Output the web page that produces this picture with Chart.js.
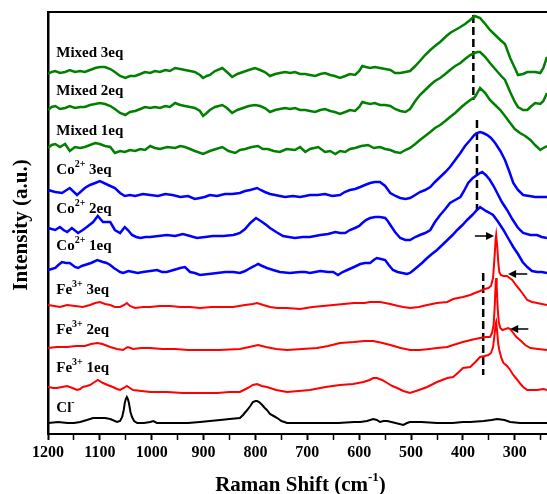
<!DOCTYPE html>
<html>
<head>
<meta charset="utf-8">
<script src="https://cdn.jsdelivr.net/npm/chart.js@4.4.1/dist/chart.umd.min.js"></script>
<style>
  html, body { margin: 0; padding: 0; background: #fff; }
</style>
</head>
<body>
<canvas id="raman" width="547" height="494"></canvas>
<script>
// Raman shift (cm-1) / intensity (a.u., stacked offsets) pairs
const mixed3 = [[1200,360],[1193,362],[1186,363],[1177,361],[1167,362],[1158,364],[1148,362],[1138,363],[1129,362],[1119,364],[1109,366],[1100,367],[1090,367],[1080,365],[1071,362],[1061,358],[1051,356],[1042,358],[1032,358],[1022,360],[1013,362],[1003,361],[994,363],[984,362],[974,364],[965,363],[955,366],[945,365],[936,364],[926,363],[917,362],[907,359],[901,356],[894,358],[888,359],[878,363],[864,366],[855,362],[845,357],[835,360],[824,362],[813,364],[801,366],[791,364],[782,362],[772,358],[762,360],[753,361],[743,362],[733,361],[724,362],[714,360],[704,360],[695,359],[685,358],[675,360],[666,361],[656,359],[647,358],[637,356],[627,358],[618,360],[608,359],[600,363],[594,368],[587,367],[579,366],[570,367],[560,366],[550,365],[540,364],[531,361],[521,361],[511,362],[502,363],[492,368],[483,373],[473,379],[463,384],[454,388],[444,392],[434,397],[425,401],[415,404],[405,407],[396,410],[386,414],[378,418],[372,417],[367,416],[357,410],[348,404],[338,399],[328,394],[319,390],[309,376],[300,366],[294,359],[284,360],[276,362],[270,362],[261,362],[251,361],[245,366],[238,377]];
const mixed2 = [[1200,324],[1193,327],[1186,328],[1177,325],[1167,326],[1158,328],[1148,326],[1138,327],[1129,327],[1119,329],[1109,330],[1100,331],[1090,330],[1080,328],[1071,325],[1061,321],[1051,319],[1042,322],[1032,323],[1022,325],[1013,327],[1003,326],[994,327],[984,326],[974,328],[965,327],[955,331],[945,329],[936,328],[926,327],[917,326],[907,323],[901,318],[894,321],[888,324],[878,327],[864,329],[855,326],[845,321],[835,324],[824,326],[813,328],[801,329],[791,328],[782,326],[772,322],[762,324],[753,325],[743,326],[733,325],[724,326],[714,324],[704,324],[695,323],[685,322],[675,324],[666,325],[656,323],[647,322],[637,320],[627,322],[618,324],[608,323],[600,327],[594,332],[587,331],[579,330],[570,331],[560,329],[550,329],[540,328],[531,325],[521,323],[511,322],[502,325],[492,333],[483,339],[473,344],[463,349],[454,353],[444,356],[434,360],[425,364],[415,368],[405,371],[396,375],[386,379],[378,381],[372,382],[367,382],[357,377],[348,371],[338,365],[328,359],[319,354],[309,342],[300,332],[294,327],[284,324],[276,324],[270,327],[261,331],[251,330],[245,333],[238,341]];
const mixed1 = [[1200,286],[1193,289],[1186,290],[1177,287],[1167,290],[1158,283],[1148,287],[1138,286],[1129,287],[1119,289],[1109,291],[1100,290],[1090,288],[1080,287],[1071,281],[1061,283],[1052,282],[1042,284],[1032,283],[1022,285],[1013,284],[1003,288],[994,286],[984,285],[970,287],[955,286],[945,288],[936,287],[926,285],[917,283],[901,280],[888,283],[876,285],[864,287],[852,283],[839,281],[830,284],[820,285],[807,287],[795,288],[786,285],[776,285],[765,283],[753,282],[740,285],[724,284],[714,287],[704,282],[695,285],[679,287],[666,282],[656,283],[646,280],[637,283],[627,282],[618,285],[608,286],[596,288],[583,289],[572,286],[560,287],[550,285],[540,284],[531,282],[521,281],[511,284],[502,286],[492,290],[483,294],[473,298],[463,302],[454,306],[444,309],[434,313],[425,317],[415,321],[405,326],[396,330],[386,334],[377,337],[367,346],[357,341],[348,334],[338,329],[328,324],[319,318],[309,311],[300,305],[290,301],[280,298],[270,294],[261,289],[251,284],[245,286],[238,288]];
const co3 = [[1200,244],[1193,243],[1186,242],[1173,241],[1158,246],[1144,239],[1129,246],[1119,249],[1109,251],[1100,253],[1084,249],[1071,246],[1061,241],[1052,238],[1042,239],[1032,238],[1017,240],[1003,239],[988,238],[974,240],[960,239],[945,237],[930,238],[917,235],[907,236],[898,237],[888,239],[874,238],[859,240],[845,240],[830,241],[820,243],[810,244],[797,246],[790,244],[782,242],[772,240],[762,239],[753,238],[743,237],[728,238],[714,237],[704,238],[695,239],[680,239],[666,240],[652,238],[637,239],[628,242],[618,244],[608,245],[598,247],[589,249],[579,251],[570,252],[560,252],[550,248],[540,241],[530,238],[521,236],[511,235],[502,236],[492,239],[483,242],[473,244],[463,247],[454,252],[444,257],[434,262],[425,267],[415,274],[405,281],[396,288],[386,294],[378,299],[373,301],[367,302],[361,301],[353,299],[346,296],[338,291],[328,283],[319,274],[311,263],[303,251],[294,244],[284,239],[272,238],[261,237],[250,237],[238,237]];
const co2 = [[1200,206],[1193,205],[1186,204],[1177,207],[1170,204],[1163,202],[1154,206],[1142,201],[1133,204],[1125,207],[1113,212],[1104,218],[1094,212],[1080,212],[1071,204],[1061,201],[1052,207],[1046,204],[1038,199],[1030,197],[1022,196],[1012,197],[1003,197],[987,198],[971,199],[955,198],[940,200],[926,198],[913,196],[897,197],[882,198],[862,198],[843,199],[836,200],[830,201],[820,205],[810,211],[799,216],[793,214],[787,212],[779,209],[772,206],[760,202],[747,198],[736,197],[724,196],[709,197],[695,197],[685,198],[675,199],[660,200],[646,202],[637,201],[627,201],[618,204],[608,206],[600,208],[594,211],[587,214],[579,216],[569,217],[560,217],[550,216],[545,213],[540,209],[531,202],[521,196],[511,194],[502,194],[492,197],[483,199],[473,201],[463,204],[454,212],[444,219],[434,225],[425,231],[415,234],[405,237],[398,243],[390,251],[381,256],[373,259],[367,261],[363,262],[356,259],[348,254],[341,248],[334,241],[325,232],[315,224],[305,215],[295,207],[290,204],[284,201],[270,199],[257,199],[248,197],[238,196]];
const co1 = [[1200,164],[1193,165],[1186,166],[1180,169],[1173,172],[1165,171],[1158,171],[1148,167],[1142,166],[1135,168],[1129,169],[1117,171],[1105,174],[1094,172],[1087,171],[1080,169],[1073,166],[1067,164],[1061,162],[1055,161],[1045,163],[1036,162],[1027,161],[1017,162],[1003,163],[990,164],[980,162],[971,162],[958,164],[945,166],[936,167],[926,162],[917,161],[907,159],[890,160],[874,161],[858,162],[843,162],[830,161],[820,163],[810,166],[802,168],[795,170],[787,168],[778,166],[766,164],[753,162],[734,161],[714,162],[704,162],[695,161],[685,162],[675,163],[660,162],[650,162],[641,159],[632,162],[623,164],[610,167],[598,170],[589,171],[579,171],[572,174],[566,176],[558,175],[550,174],[543,169],[535,164],[526,162],[517,161],[508,160],[502,161],[495,164],[488,167],[479,171],[469,176],[460,180],[450,184],[440,189],[430,194],[420,199],[411,204],[401,209],[392,214],[382,219],[373,224],[367,227],[356,223],[348,221],[342,219],[332,212],[322,204],[312,195],[303,187],[294,180],[285,172],[276,167],[267,163],[257,162],[248,162],[238,161]];
const fe3 = [[1200,129],[1188,128],[1177,127],[1163,129],[1148,128],[1133,127],[1119,129],[1109,131],[1100,132],[1090,130],[1080,129],[1071,127],[1061,127],[1053,129],[1048,131],[1042,128],[1032,126],[1017,127],[1003,127],[985,128],[965,128],[945,127],[926,127],[907,126],[885,127],[864,127],[843,127],[820,129],[805,130],[797,131],[785,129],[772,127],[758,126],[740,126],[714,125],[690,127],[670,128],[650,129],[630,130],[610,131],[590,131],[579,132],[560,132],[540,130],[525,128],[515,127],[502,126],[485,127],[469,129],[450,131],[430,132],[419,135],[400,137],[386,139],[377,141],[367,143],[358,145],[351,146],[346,148],[342,156],[339,178],[337,195],[336,199],[334,188],[332,172],[330,162],[327,159],[322,158],[315,158],[310,156],[305,154],[298,149],[290,144],[283,139],[276,134],[267,132],[257,131],[248,130],[238,129]];
const fe2 = [[1200,86],[1183,87],[1163,87],[1146,88],[1129,88],[1117,90],[1105,91],[1095,90],[1080,87],[1067,85],[1055,84],[1050,86],[1046,87],[1041,86],[1036,85],[1020,86],[1003,86],[980,85],[955,85],[930,84],[907,84],[870,84],[830,85],[812,87],[795,89],[780,87],[760,85],[739,84],[710,85],[681,86],[660,88],[637,91],[610,92],[590,93],[573,93],[555,91],[540,89],[520,86],[502,84],[483,84],[465,85],[450,86],[430,87],[419,89],[400,92],[385,94],[367,96],[355,97],[348,97],[344,101],[341,109],[339,125],[337,150],[336,156],[335,148],[333,125],[331,112],[328,106],[324,104],[318,105],[313,106],[309,105],[303,101],[297,97],[290,94],[280,89],[270,86],[255,85],[238,84]];
const fe1 = [[1200,47],[1190,46],[1183,46],[1173,47],[1163,48],[1153,46],[1144,44],[1138,45],[1133,47],[1125,48],[1119,49],[1110,52],[1104,54],[1094,51],[1085,49],[1075,47],[1067,45],[1061,44],[1054,46],[1048,48],[1042,46],[1036,44],[1020,43],[1003,42],[970,42],[940,41],[905,41],[874,41],[850,42],[830,42],[815,46],[805,49],[797,50],[788,48],[778,47],[760,44],[739,42],[717,43],[695,44],[665,47],[637,49],[612,50],[592,52],[580,54],[573,56],[566,56],[556,54],[546,51],[536,48],[527,46],[515,43],[502,41],[485,44],[469,47],[450,52],[430,56],[419,57],[410,61],[400,66],[386,67],[376,72],[367,77],[358,78],[351,79],[346,81],[342,87],[339,100],[337,110],[336,112],[334,102],[332,90],[330,84],[326,76],[322,71],[315,68],[309,64],[303,59],[295,54],[289,50],[284,47],[276,44],[265,44],[257,44],[245,45],[238,44]];
const chloride = [[1200,11],[1180,12],[1163,11],[1150,11],[1138,12],[1125,14],[1113,16],[1100,16],[1090,16],[1080,15],[1067,12],[1061,13],[1057,17],[1054,24],[1052,31],[1050,35],[1048,37],[1046,35],[1044,31],[1041,22],[1038,17],[1034,13],[1028,11],[1015,11],[1003,12],[997,13],[990,11],[960,11],[930,11],[907,12],[888,13],[868,14],[850,15],[830,16],[824,19],[816,24],[810,28],[805,32],[800,33],[797,33],[793,32],[787,29],[782,26],[778,24],[772,20],[765,18],[758,16],[750,13],[739,11],[710,11],[675,11],[640,11],[610,12],[598,12],[585,13],[573,15],[566,14],[560,12],[553,13],[546,13],[530,11],[515,9],[508,11],[502,12],[480,12],[450,11],[420,11],[400,12],[386,12],[360,13],[345,14],[334,15],[320,14],[309,12],[290,11],[270,11],[238,11]];

// sample names: base text, superscript, remainder; and label anchors (x in cm-1, y in a.u.)
const labelParts = [['Mixed 3eq','',''],['Mixed 2eq','',''],['Mixed 1eq','',''],['Co','2+',' 3eq'],['Co','2+',' 2eq'],['Co','2+',' 1eq'],['Fe','3+',' 3eq'],['Fe','3+',' 2eq'],['Fe','3+',' 1eq'],['Cl','-','']];
const labelShift = 1184;
const labelLevels = [381, 343, 303, 264, 225, 188, 144, 104, 66, 26];

// dashed guide lines: [shift, intensity from, intensity to]
const guides = [[380, 419, 334], [373, 314, 224], [361, 161, 59]];
// arrows: [tail shift, head shift, intensity]
const arrows = [[377, 340, 198], [276, 313, 160], [274, 309, 105]];

const xTicksMajor = [300, 400, 500, 600, 700, 800, 900, 1000, 1100, 1200];

const SERIF = "'Liberation Serif', 'Times New Roman', serif";
const GREEN = '#008000';
const BLUE = '#0000ff';
const RED = '#ff0000';

function toPoints(arr) {
    return arr.map(p => ({ x: p[0], y: p[1] }));
}

function trace(arr, color, width) {
    return {
        data: toPoints(arr),
        borderColor: color,
        borderWidth: width,
        pointRadius: 0,
        showLine: true,
        tension: 0,
        fill: false
    };
}

const datasets = [
    trace(mixed3, GREEN, 2.5),
    trace(mixed2, GREEN, 2.5),
    trace(mixed1, GREEN, 2.5),
    trace(co3, BLUE, 2.5),
    trace(co2, BLUE, 2.5),
    trace(co1, BLUE, 2.5),
    trace(fe3, RED, 2),
    trace(fe2, RED, 2),
    trace(fe1, RED, 2),
    trace(chloride, '#000000', 2)
];

guides.forEach(g => {
    datasets.push({
        data: [{ x: g[0], y: g[1] }, { x: g[0], y: g[2] }],
        borderColor: '#000',
        borderWidth: 2.5,
        borderDash: [8, 4],
        pointRadius: 0,
        showLine: true
    });
});

// draws frame top, arrows, sample names and axis titles
const annotate = {
    id: 'annotate',
    afterDatasetsDraw(chart) {
        const { ctx, chartArea } = chart;
        const xs = chart.scales.x;
        const ys = chart.scales.y;
        ctx.save();

        ctx.strokeStyle = '#000';
        ctx.lineWidth = 2;
        ctx.beginPath();
        ctx.moveTo(chartArea.left, chartArea.top);
        ctx.lineTo(chartArea.right, chartArea.top);
        ctx.stroke();

        ctx.fillStyle = '#000';
        ctx.lineWidth = 1.5;
        arrows.forEach(a => {
            const x0 = xs.getPixelForValue(a[0]);
            const x1 = xs.getPixelForValue(a[1]);
            const yy = ys.getPixelForValue(a[2]);
            const dir = Math.sign(x1 - x0);
            ctx.beginPath();
            ctx.moveTo(x0, yy);
            ctx.lineTo(x1 - dir * 6, yy);
            ctx.stroke();
            ctx.beginPath();
            ctx.moveTo(x1, yy);
            ctx.lineTo(x1 - dir * 8, yy - 4);
            ctx.lineTo(x1 - dir * 8, yy + 4);
            ctx.closePath();
            ctx.fill();
        });

        ctx.textBaseline = 'middle';
        ctx.textAlign = 'left';
        labelParts.forEach((parts, i) => {
            let px = xs.getPixelForValue(labelShift);
            const py = ys.getPixelForValue(labelLevels[i]);
            ctx.font = 'bold 15px ' + SERIF;
            ctx.fillText(parts[0], px, py);
            px += ctx.measureText(parts[0]).width;
            if (parts[1]) {
                ctx.font = 'bold 10px ' + SERIF;
                ctx.fillText(parts[1], px, py - 6);
                px += ctx.measureText(parts[1]).width;
            }
            if (parts[2]) {
                ctx.font = 'bold 15px ' + SERIF;
                ctx.fillText(parts[2], px, py);
            }
        });

        // x axis title with superscript
        const main = 'Raman Shift (cm';
        const sup = '-1';
        const tail = ')';
        ctx.font = 'bold 21px ' + SERIF;
        const wMain = ctx.measureText(main).width;
        const wTail = ctx.measureText(tail).width;
        ctx.font = 'bold 13px ' + SERIF;
        const wSup = ctx.measureText(sup).width;
        let tx = (chartArea.left + chartArea.right) / 2 + 3 - (wMain + wSup + wTail) / 2;
        const ty = 486;
        ctx.font = 'bold 21px ' + SERIF;
        ctx.fillText(main, tx, ty);
        tx += wMain;
        ctx.font = 'bold 13px ' + SERIF;
        ctx.fillText(sup, tx, ty - 8);
        tx += wSup;
        ctx.font = 'bold 21px ' + SERIF;
        ctx.fillText(tail, tx, ty);

        // y axis title
        ctx.translate(22, (chartArea.top + chartArea.bottom) / 2 + 2);
        ctx.rotate(-Math.PI / 2);
        ctx.textAlign = 'center';
        ctx.font = 'bold 21px ' + SERIF;
        ctx.fillText('Intensity (a.u.)', 0, 0);

        ctx.restore();
    }
};

new Chart(document.getElementById('raman'), {
    type: 'scatter',
    data: { datasets: datasets },
    options: {
        responsive: false,
        animation: false,
        layout: { padding: { top: 12, right: 0, bottom: 0, left: 0 } },
        plugins: {
            legend: { display: false },
            tooltip: { enabled: false }
        },
        scales: {
            x: {
                type: 'linear',
                reverse: true,
                min: 238,
                max: 1200,
                afterFit: scale => { scale.height = 60; },
                border: { display: true, color: '#000', width: 2 },
                grid: {
                    drawOnChartArea: false,
                    color: '#000',
                    tickColor: '#000',
                    tickLength: 6,
                    tickWidth: ctx => (xTicksMajor.includes(ctx.tick && ctx.tick.value) ? 2 : 1.5)
                },
                ticks: {
                    stepSize: 50,
                    includeBounds: false,
                    autoSkip: false,
                    maxRotation: 0,
                    padding: 3,
                    color: '#000',
                    font: { family: SERIF, size: 16, weight: 'bold' },
                    callback: v => (xTicksMajor.includes(v) ? String(v) : '')
                }
            },
            y: {
                type: 'linear',
                min: 0,
                max: 422,
                afterFit: scale => { scale.width = 48; },
                border: { display: true, color: '#000', width: 2.5 },
                grid: { display: false },
                ticks: { display: false }
            }
        }
    },
    plugins: [annotate]
});
</script>
</body>
</html>
